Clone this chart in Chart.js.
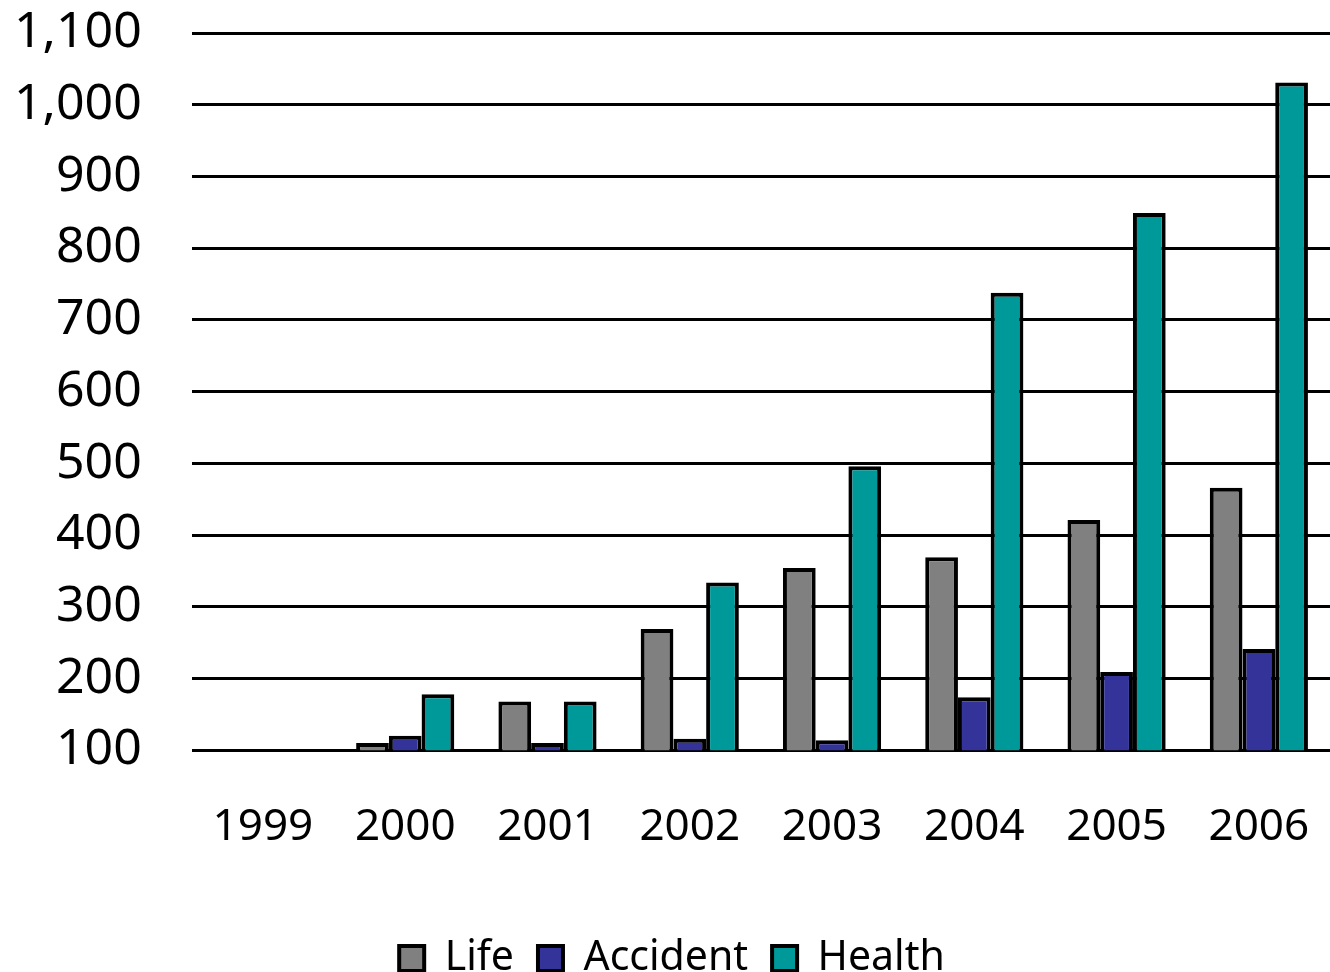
<!DOCTYPE html>
<html>
<head>
<meta charset="utf-8">
<script src="https://cdn.jsdelivr.net/npm/chart.js@4"></script>
<style>
  html, body { margin: 0; padding: 0; background: #fff; }
  #wrap { width: 1330px; height: 972px; }
</style>
</head>
<body>
<div id="wrap"><canvas id="chart" width="1330" height="972"></canvas></div>
<script>
// ── Daten ────────────────────────────────────────────────────────────────────
const years    = ['1999', '2000', '2001', '2002', '2003', '2004', '2005', '2006'];
const life     = [null, 110, 168, 269, 354, 369, 421, 466];
const accident = [null, 120, 110, 116, 114, 174, 209, 241];
const health   = [null, 178, 168, 334, 496, 738, 849, 1031];

const yTicks = { min: 100, max: 1100, step: 100 };

// ── Chart ────────────────────────────────────────────────────────────────────
const FONT = '"Noto Sans", "Open Sans", sans-serif';

function ds(label, data, color) {
  return {
    label,
    data,
    backgroundColor: color,
    borderColor: '#000',
    borderWidth: 4,
    borderSkipped: 'bottom',
    barPercentage: 1.0,
    categoryPercentage: 0.69
  };
}

// Legende etwas tiefer setzen: Hoehe kuerzen, Items rutschen nach unten
const legendLower = {
  id: 'legendLower',
  beforeLayout(chart) {
    const lg = chart.legend;
    if (!lg || lg._lowered) return;
    const fit = lg.fit;
    lg.fit = function () { fit.call(this); this.height -= 17; };
    lg._lowered = true;
  }
};

new Chart(document.getElementById('chart'), {
  type: 'bar',
  data: {
    labels: years,
    datasets: [
      ds('Life', life, '#808080'),
      ds('Accident', accident, '#333399'),
      ds('Health', health, '#009999')
    ]
  },
  plugins: [legendLower],
  options: {
    responsive: false,
    animation: false,
    layout: { padding: { top: 33, right: 0, left: 14, bottom: 0 } },
    plugins: {
      legend: {
        position: 'bottom',
        labels: {
          color: '#000',
          font: { family: FONT, size: 41 },
          boxWidth: 25,
          boxHeight: 25,
          padding: 24
        }
      },
      tooltip: { enabled: false }
    },
    scales: {
      x: {
        // Abstand ueber tickLength (Grid aus, also unsichtbar)
        grid: { display: false, drawTicks: true, tickLength: 48 },
        border: { display: false },
        ticks: { color: '#000', font: { family: FONT, size: 44 }, padding: 3 },
        afterFit: s => { s.height += 57; }
      },
      y: {
        min: yTicks.min,
        max: yTicks.max,
        border: { display: false },
        grid: { color: '#000', lineWidth: 3, drawTicks: true, tickLength: 50, tickColor: 'transparent' },
        ticks: {
          stepSize: yTicks.step,
          color: '#000',
          font: { family: FONT, size: 50 },
          padding: 0,
          callback: v => v.toLocaleString('en-US')
        }
      }
    }
  }
});
</script>
</body>
</html>
